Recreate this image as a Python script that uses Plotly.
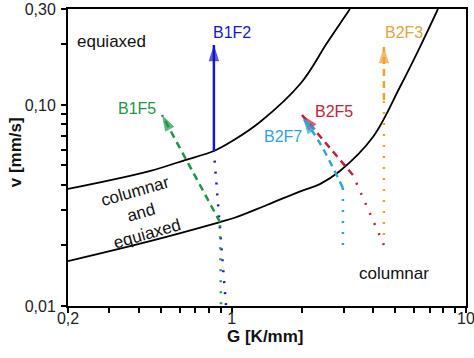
import numpy as np
import plotly.graph_objects as go

# ---- boundary curves (G in K/mm, v in mm/s) ----
G_upper = [0.2, 0.45, 0.632, 0.839, 1.022, 1.32, 1.975, 2.55, 3.196]
v_upper = [0.0382, 0.0470, 0.0532, 0.0590, 0.0669, 0.0822, 0.1285, 0.203, 0.30]

G_lower = [0.2, 0.448, 0.891, 1.022, 1.413, 1.975, 2.379, 2.896, 4.006, 5.224, 6.358, 7.589]
v_lower = [0.01673, 0.02103, 0.02615, 0.0274, 0.0318, 0.0373, 0.0404, 0.0469, 0.0692, 0.1228, 0.194, 0.30]

# ---- process paths ----
# B1F2
b1f2_G_dot = [0.945, 0.917, 0.891, 0.865, 0.839]
b1f2_v_dot = [0.0101, 0.01598, 0.02615, 0.0400, 0.0590]
b1f2_G_main = [0.839, 0.839]
b1f2_v_main = [0.0590, 0.1986]
# B1F5
b1f5_G_dot = [0.900, 0.891]
b1f5_v_dot = [0.0102, 0.02615]
b1f5_G_main = [0.891, 0.504]
b1f5_v_main = [0.02615, 0.0891]
# B2F7
b2f7_G_dot = [2.983, 2.983]
b2f7_v_dot = [0.0201, 0.0386]
b2f7_G_main = [2.983, 2.379, 2.014]
b2f7_v_main = [0.0386, 0.0646, 0.0861]
# B2F5
b2f5_G_dot = [4.463, 3.291]
b2f5_v_dot = [0.0201, 0.0448]
b2f5_G_main = [3.291, 1.994]
b2f5_v_main = [0.0448, 0.0891]
# B2F3
b2f3_G_dot = [4.463, 4.463]
b2f3_v_dot = [0.02253, 0.1057]
b2f3_G_main = [4.463, 4.463]
b2f3_v_main = [0.1057, 0.194]

x_tickvals = [0.2, 0.3, 0.4, 0.5, 0.6, 0.7, 0.8, 0.9, 1, 2, 3, 4, 5, 6, 7, 8, 9, 10]
x_ticktext = ["0,2", "", "", "", "", "", "", "", "1", "", "", "", "", "", "", "", "", "10"]
y_tickvals = [0.01, 0.02, 0.03, 0.04, 0.05, 0.06, 0.07, 0.08, 0.09, 0.1, 0.2, 0.3]
y_ticktext = ["0,01", "", "", "", "", "", "", "", "", "0,10", "", "0,30"]

BLUE = "#1717c8"
GREEN = "#1f9447"
CYAN = "#2aa6d6"
RED = "#c21f3a"
ORANGE = "#f0a02c"

FONT = "Liberation Sans, Arial, sans-serif"
DOT = "2px,9px"
DASH = "7px,5px"

fig = go.Figure()

fig.add_trace(go.Scatter(x=G_upper, y=v_upper, mode="lines", line=dict(color="black", width=1.8, shape="spline")))
fig.add_trace(go.Scatter(x=G_lower, y=v_lower, mode="lines", line=dict(color="black", width=1.8, shape="spline")))

paths = [
    (b1f2_G_dot, b1f2_v_dot, b1f2_G_main, b1f2_v_main, BLUE, "solid"),
    (b1f5_G_dot, b1f5_v_dot, b1f5_G_main, b1f5_v_main, GREEN, DASH),
    (b2f3_G_dot, b2f3_v_dot, b2f3_G_main, b2f3_v_main, ORANGE, DASH),
    (b2f5_G_dot, b2f5_v_dot, b2f5_G_main, b2f5_v_main, RED, DASH),
    (b2f7_G_dot, b2f7_v_dot, b2f7_G_main, b2f7_v_main, CYAN, DASH),
]
for gd, vd, gm, vm, col, dash in paths:
    fig.add_trace(go.Scatter(x=gd, y=vd, mode="lines", line=dict(color=col, width=2.5, dash=DOT)))
    fig.add_trace(go.Scatter(x=gm, y=vm, mode="lines",
                             line=dict(color=col, width=2.5, dash=dash, shape="spline")))
    fig.add_trace(go.Scatter(x=gm[-2:], y=vm[-2:], mode="markers",
                             marker=dict(symbol="arrow", angleref="previous", size=[0, 17],
                                         color=col, line=dict(width=0))))

labels = [
    ("B1F2", 1.0, 0.2305, BLUE, 0, 16),
    ("B1F5", 0.394, 0.0965, GREEN, 0, 16),
    ("B2F7", 1.654, 0.070, CYAN, 0, 16),
    ("B2F5", 2.731, 0.0932, RED, 0, 16),
    ("B2F3", 5.433, 0.2305, "#e6a23c", 0, 16),
    ("equiaxed", 0.308, 0.2056, "#111", 0, 17),
    ("columnar<br>and<br>equiaxed", 0.410, 0.0293, "#111", -16, 17),
    ("columnar", 4.925, 0.01458, "#111", 0, 17),
]
for txt, gx, vy, col, ang, fs in labels:
    fig.add_annotation(x=np.log10(gx), y=np.log10(vy), xref="x", yref="y", text=txt,
                       showarrow=False, textangle=ang, xanchor="center", yanchor="middle",
                       font=dict(family=FONT, size=fs, color=col))

fig.add_annotation(x=0.497, y=-0.104, xref="paper", yref="paper", text="<b>G [K/mm]</b>",
                   showarrow=False, xanchor="center", yanchor="middle",
                   font=dict(family=FONT, size=17, color="#111"))
fig.add_annotation(x=-0.133, y=0.518, xref="paper", yref="paper", text="<b>v [mm/s]</b>",
                   showarrow=False, textangle=-90, xanchor="center", yanchor="middle",
                   font=dict(family=FONT, size=17, color="#111"))

axis_common = dict(type="log", showgrid=False, zeroline=False, showline=True, linecolor="black",
                   linewidth=2, mirror=True, ticks="outside", ticklen=5, tickwidth=1.5,
                   tickcolor="black", tickmode="array", automargin=False,
                   ticklabeloverflow="allow",
                   tickfont=dict(family=FONT, size=16, color="#222"))

fig.update_layout(
    width=474, height=358,
    margin=dict(l=68, r=8, t=9, b=52, autoexpand=False),
    paper_bgcolor="white", plot_bgcolor="white",
    showlegend=False,
    xaxis=dict(range=[np.log10(0.2), 1], tickvals=x_tickvals, ticktext=x_ticktext,
               ticklabelstandoff=-8, **axis_common),
    yaxis=dict(range=[-2, np.log10(0.3)], tickvals=y_tickvals, ticktext=y_ticktext,
               ticklabelstandoff=2, **axis_common),
)

fig.write_html("out.html", config={"displayModeBar": False},
               post_script="document.body.style.margin='0px';document.body.style.padding='0px';document.body.style.overflow='hidden';")
